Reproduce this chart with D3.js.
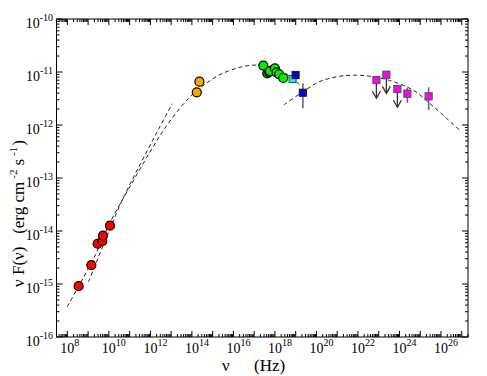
<!DOCTYPE html>
<html><head><meta charset="utf-8">
<script src="https://cdn.jsdelivr.net/npm/d3@7"></script>
<style>
body{margin:0;background:#fff}
text{font-family:"Liberation Serif","Times New Roman",serif;fill:#000}
</style>
</head><body>
<svg id="c" width="487" height="376"></svg>
<script>
// ---- tick labels (exponents of 10) ----
const xTickExps = [8,10,12,14,16,18,20,22,24,26];
const yTickExps = [-16,-15,-14,-13,-12,-11,-10];

// ---- data (nu in Hz, nuFnu in erg cm^-2 s^-1) ----
const radioNu   = [3.49e8, 1.43e9, 2.86e9, 4.82e9, 5.20e9, 1.13e10];
const radioF    = [9.16e-16, 2.28e-15, 5.75e-15, 6.47e-15, 8.15e-15, 1.26e-14];

const optNu     = [2.30e14, 1.72e14];
const optF      = [6.56e-12, 4.14e-12];

const xdarkNu   = [4.27e17, 5.32e17, 7.74e17];
const xdarkF    = [9.44e-12, 1.01e-11, 1.09e-11];

const xNu       = [2.74e17, 5.75e17, 1.00e18, 1.21e18, 1.61e18, 2.51e18];
const xF        = [1.32e-11, 1.04e-11, 1.17e-11, 9.86e-12, 9.06e-12, 7.71e-12];

const cyanNu    = [7.10e18];
const cyanF     = [7.38e-12];

const blueNu    = [9.89e18, 2.22e19];
const blueF     = [8.77e-12, 4.06e-12];
const blueErrLo = [null, 2.07e-12];
const blueErrHi = [null, 6.12e-12];

const gamNu     = [7.74e22, 2.34e23, 7.93e23, 2.40e24, 2.54e25];
const gamF      = [7.06e-12, 8.89e-12, 4.78e-12, 3.90e-12, 3.48e-12];
const gamUL     = [3.19e-12, 3.96e-12, 2.16e-12, null, null];   // arrow tips (upper limits)
const gamErrLo  = [null, null, null, 2.64e-12, 1.92e-12];
const gamErrHi  = [null, null, null, 5.06e-12, 5.14e-12];

// ---- model curves (log10 nu, log10 nuFnu) ----
const syncLogNu = [7.99, 8.63, 9.35, 10.07, 11.02, 11.98, 12.70, 13.43, 14.01, 14.63, 15.35, 16.32, 17.04, 17.76, 18.49, 19.21];
const syncLogF  = [-15.43, -14.98, -14.45, -13.83, -13.16, -12.51, -12.06, -11.68, -11.43, -11.23, -11.05, -10.91, -10.87, -10.90, -11.02, -11.25];

const radLogNu  = [9.02, 9.83, 10.64, 11.51, 12.38, 13.05];
const radLogF   = [-14.96, -14.17, -13.42, -12.74, -12.09, -11.60];

const icLogNu   = [18.43, 19.36, 20.16, 21.13, 21.93, 22.57, 23.53, 24.65, 25.45, 26.26, 26.98];
const icLogF    = [-11.62, -11.37, -11.18, -11.08, -11.06, -11.08, -11.16, -11.34, -11.59, -11.87, -12.13];

// ---- layout ----
const L = 56.5, R = 468, T = 19, B = 337;
const svg = d3.select("#c");
const x = d3.scaleLog().domain([3e7, 2e27]).range([L, R]);
const y = d3.scaleLog().domain([1e-16, 1e-10]).range([B, T]);

// frame
svg.append("rect").attr("x", L).attr("y", T).attr("width", R - L).attr("height", B - T)
  .attr("fill", "none").attr("stroke", "#000").attr("stroke-width", 1);

// ticks
function decadeTicks(lo, hi) {
  const major = [], minor = [];
  for (let e = Math.floor(Math.log10(lo)); e <= Math.ceil(Math.log10(hi)); e++) {
    for (let k = 1; k <= 9; k++) {
      const v = k * Math.pow(10, e);
      if (v < lo * 0.999 || v > hi * 1.001) continue;
      (k === 1 ? major : minor).push(v);
    }
  }
  return {major, minor};
}
const tg = svg.append("g").attr("stroke", "#000").attr("stroke-width", 1);
const xt = decadeTicks(3e7, 2e27);
const yt = decadeTicks(1e-16, 1e-10);
const MJ = 6, MN = 3;
xt.major.forEach(v => { const p = x(v);
  tg.append("line").attr("x1", p).attr("x2", p).attr("y1", B).attr("y2", B - MJ);
  tg.append("line").attr("x1", p).attr("x2", p).attr("y1", T).attr("y2", T + MJ); });
xt.minor.forEach(v => { const p = x(v);
  tg.append("line").attr("x1", p).attr("x2", p).attr("y1", B).attr("y2", B - MN);
  tg.append("line").attr("x1", p).attr("x2", p).attr("y1", T).attr("y2", T + MN); });
yt.major.forEach(v => { const p = y(v);
  tg.append("line").attr("y1", p).attr("y2", p).attr("x1", L).attr("x2", L + MJ);
  tg.append("line").attr("y1", p).attr("y2", p).attr("x1", R).attr("x2", R - MJ); });
yt.minor.forEach(v => { const p = y(v);
  tg.append("line").attr("y1", p).attr("y2", p).attr("x1", L).attr("x2", L + MN);
  tg.append("line").attr("y1", p).attr("y2", p).attr("x1", R).attr("x2", R - MN); });

// tick labels
xTickExps.forEach(e => {
  const p = x(Math.pow(10, e));
  svg.append("text").attr("x", p).attr("y", 353).attr("text-anchor", "middle")
    .attr("font-size", 14).text("10");
  svg.append("text").attr("x", p + 7).attr("y", 346).attr("font-size", 10).text(String(e));
});
yTickExps.forEach(e => {
  const p = y(Math.pow(10, e));
  const t = svg.append("text").attr("x", 53).attr("y", p + 8.5).attr("text-anchor", "end");
  t.append("tspan").attr("font-size", 14).text("10");
  t.append("tspan").attr("font-size", 10).attr("dy", -7).text(String(e));
});

// axis titles
svg.append("text").attr("x", 222).attr("y", 371).attr("font-size", 17).text("ν");
svg.append("text").attr("x", 254).attr("y", 371).attr("font-size", 17).text("(Hz)");

const yt1 = svg.append("text").attr("transform", "translate(24,287) rotate(-90)")
  .attr("font-size", 17).style("white-space", "pre");
yt1.append("tspan").text("ν F(ν)   (erg cm");
yt1.append("tspan").attr("font-size", 11).attr("dy", -7).attr("dx", 3).text("-2");
yt1.append("tspan").attr("dy", 7).attr("dx", 4).text("s");
yt1.append("tspan").attr("font-size", 11).attr("dy", -7).attr("dx", 3).text("-1");
yt1.append("tspan").attr("dy", 7).attr("dx", 1).text(")");

// model curves
const line = d3.line().x(d => x(Math.pow(10, d[0]))).y(d => y(Math.pow(10, d[1]))).curve(d3.curveCatmullRom);
function drawCurve(ln, lf) {
  svg.append("path").datum(ln.map((v, i) => [v, lf[i]])).attr("d", line)
    .attr("fill", "none").attr("stroke", "#222").attr("stroke-width", 1)
    .attr("stroke-dasharray", "4,3");
}
drawCurve(syncLogNu, syncLogF);
drawCurve(radLogNu, radLogF);
drawCurve(icLogNu, icLogF);

// error bars
function errBars(nu, lo, hi) {
  nu.forEach((v, i) => { if (lo[i] == null) return;
    svg.append("line").attr("x1", x(v)).attr("x2", x(v)).attr("y1", y(lo[i])).attr("y2", y(hi[i]))
      .attr("stroke", "#666").attr("stroke-width", 1.6); });
}
errBars(blueNu, blueErrLo, blueErrHi);
errBars(gamNu, gamErrLo, gamErrHi);

// upper-limit arrows
gamNu.forEach((v, i) => { if (gamUL[i] == null) return;
  const px = x(v), y0 = y(gamF[i]), y1 = y(gamUL[i]);
  svg.append("line").attr("x1", px).attr("x2", px).attr("y1", y0).attr("y2", y1)
    .attr("stroke", "#333").attr("stroke-width", 1.3);
  svg.append("path").attr("d", `M${px - 4},${y1 - 7}L${px},${y1}L${px + 4},${y1 - 7}`)
    .attr("fill", "none").attr("stroke", "#333").attr("stroke-width", 1.3);
});

// markers
function circles(nu, f, fill) {
  nu.forEach((v, i) => svg.append("circle").attr("cx", x(v)).attr("cy", y(f[i])).attr("r", 4.5)
    .attr("fill", fill).attr("stroke", "#000").attr("stroke-width", 1.2));
}
function squares(nu, f, fill, stroke) {
  const s = 7;
  nu.forEach((v, i) => svg.append("rect").attr("x", x(v) - s / 2).attr("y", y(f[i]) - s / 2)
    .attr("width", s).attr("height", s).attr("fill", fill).attr("stroke", stroke).attr("stroke-width", 1.2));
}
circles(radioNu, radioF, "#ff0000");
circles(optNu, optF, "#ffa500");
circles(xdarkNu, xdarkF, "#1a8a1a");
circles(xNu, xF, "#00ee00");
squares(cyanNu, cyanF, "#00ffff", "#555");
squares(blueNu, blueF, "#0000e0", "#222");
squares(gamNu, gamF, "#ff00ff", "#555");
</script>
</body></html>
